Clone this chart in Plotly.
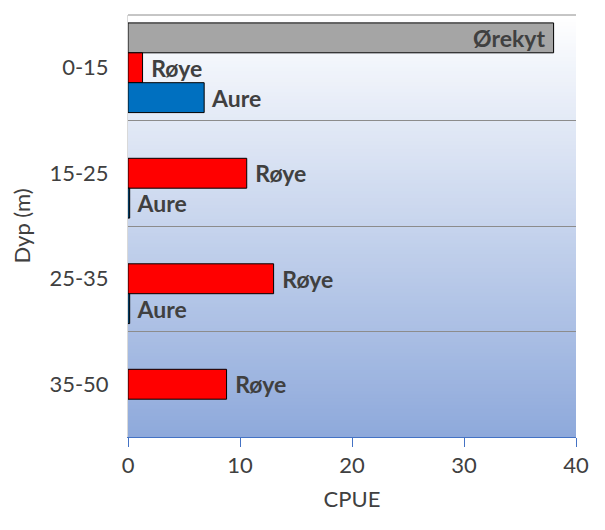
import plotly.graph_objects as go

depths = ["0-15", "15-25", "25-35", "35-50"]
orekyt = [38.0, None, None, None]
roye = [1.3, 10.6, 13.0, 8.8]
aure = [6.8, 0.15, 0.15, None]

series = [("Ørekyt", orekyt, "#A5A5A5"), ("Røye", roye, "#FF0000"), ("Aure", aure, "#0070C0")]
x_ticks = [0, 10, 20, 30, 40]

FONT = "Lato"
TXT = "#404040"

fig = go.Figure()
for name, vals, col in series:
    inside = name == "Ørekyt"
    texts = [(name + "\u00a0" if inside else "\u00a0" + name) if v else "" for v in vals]
    fig.add_trace(go.Bar(
        y=depths, x=vals, orientation="h", name=name,
        marker=dict(color=col, line=dict(color="black", width=1)),
        text=texts,
        textposition="inside" if inside else "outside",
        insidetextanchor="end",
        textfont=dict(family=FONT, size=23, color=TXT, weight="bold"),
        cliponaxis=False,
    ))

# vertical gradient background
shapes = []
N = 120
top = (255, 255, 255)
bot = (142, 169, 219)
for i in range(N):
    t = (i + 0.5) / N
    c = tuple(round(bot[k] + (top[k] - bot[k]) * t) for k in range(3))
    shapes.append(dict(type="rect", xref="paper", yref="paper",
                       x0=0, x1=1, y0=i / N, y1=(i + 1) / N + 0.002,
                       fillcolor="rgb(%d,%d,%d)" % c, line=dict(width=0), layer="below"))
shapes.append(dict(type="line", xref="paper", yref="paper", x0=0, x1=1, y0=1, y1=1,
                   line=dict(color="#8C8C8C", width=1), layer="above"))

fig.update_layout(
    width=597, height=522,
    margin=dict(l=120, r=29, t=7, b=93),
    paper_bgcolor="white", plot_bgcolor="white",
    barmode="group", bargap=0.15, bargroupgap=0,
    showlegend=False,
    uniformtext=dict(minsize=23, mode="show"),
    shapes=shapes,
    font=dict(family=FONT, color=TXT),
    xaxis=dict(range=[0, 40], tickvals=x_ticks, showgrid=False, zeroline=False,
               showline=True, linecolor="#4472C4", linewidth=1,
               ticks="outside", ticklen=9, tickcolor="#4472C4",
               tickfont=dict(size=22, family=FONT, color=TXT),
               title=dict(text="CPUE", font=dict(size=22, family=FONT, color=TXT), standoff=14)),
    yaxis=dict(categoryorder="array", categoryarray=depths, autorange="reversed",
               tickson="boundaries", showgrid=True, gridcolor="#8C8C8C", gridwidth=1,
               showline=True, linecolor="#D9D9D9", ticks="", ticklabelstandoff=14,
               tickfont=dict(size=22, family=FONT, color=TXT),
               title=dict(text="Dyp (m)", font=dict(size=22, family=FONT, color=TXT), standoff=12)),
)

fig.write_html("out.html")
